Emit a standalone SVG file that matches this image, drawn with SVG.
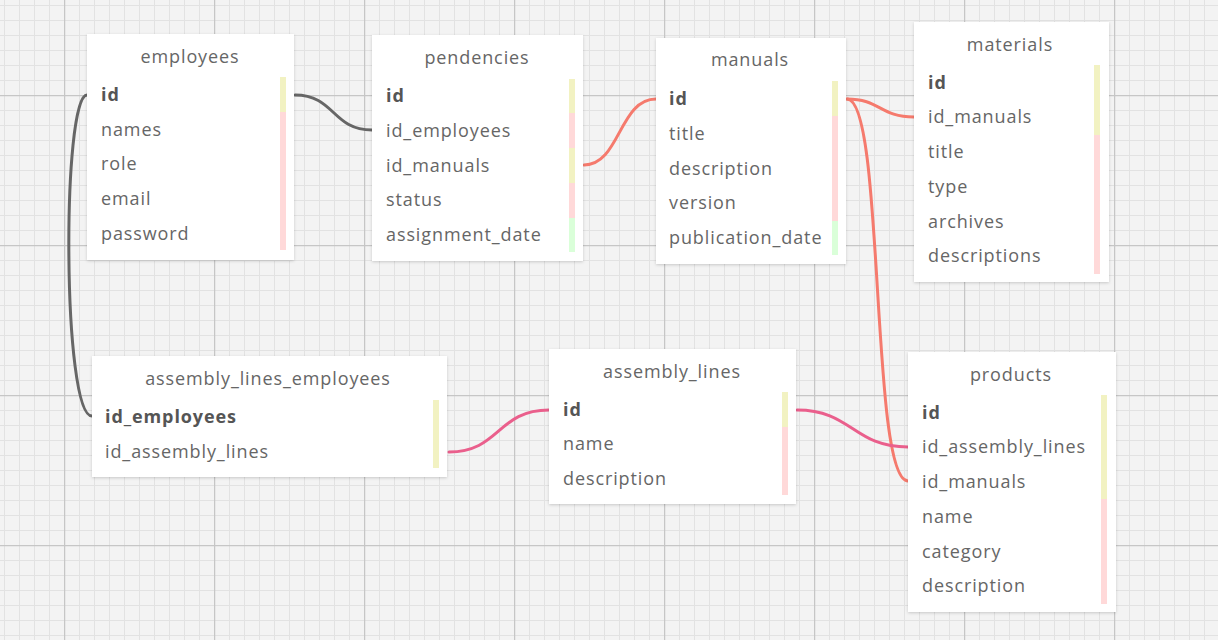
<svg xmlns="http://www.w3.org/2000/svg" width="1218" height="640" viewBox="0 0 1218 640">
<style>
.box{fill:#ffffff;filter:url(#sh)}
.t{font-family:"Open Sans","Noto Sans",sans-serif;font-size:18px;fill:#666666;letter-spacing:0.9px}
.title{text-anchor:middle}
.pk{font-weight:bold;fill:#555555}
.y{fill:#f2f2c2}.p{fill:#ffd9d9}.g{fill:#daffd9}
.c{fill:none;stroke-width:3;stroke-linecap:round}
.gr{stroke:#666666}.co{stroke:#f57a6d}.pi{stroke:#ea5f8c}
</style>
<defs>
<pattern id="minor" width="15" height="15" patternUnits="userSpaceOnUse" x="4" y="5">
<path d="M0.5 0V15M0 0.5H15" stroke="#e2e2e2" stroke-width="1" fill="none"/>
</pattern>
<pattern id="major" width="150" height="150" patternUnits="userSpaceOnUse" x="64" y="95">
<path d="M0.5 0V150M0 0.5H150" stroke="#c6c6c6" stroke-width="1.5" fill="none"/>
</pattern>
<filter id="sh" x="-10%" y="-10%" width="120%" height="120%">
<feDropShadow dx="0" dy="1" stdDeviation="1.5" flood-color="#000" flood-opacity="0.18"/>
</filter>
</defs>
<rect width="1218" height="640" fill="#f3f3f3"/>
<rect width="1218" height="640" fill="url(#minor)"/>
<rect width="1218" height="640" fill="url(#major)"/>

<g id="connectors">
<path class="c gr" d="M295,95 C335,95 332,130 372,130"/>
<path class="c gr" d="M87,95 C62,95 62,416 92,416"/>
<path class="c co" d="M584,165 C620,165 619,99 656,99"/>
<path class="c co" d="M847,99 C880,99 880,117 914,117"/>
<path class="c co" d="M847,99 C885,99 870,481 908,481"/>
<path class="c pi" d="M449,452 C500,452 497,410 549,410"/>
<path class="c pi" d="M797,410 C852,410 853,447 908,447"/>
</g>

<g id="employees">
<rect class="box" x="87" y="34" width="207" height="226"/>
<text class="t title" x="190" y="63">employees</text>
<text class="t pk" x="101" y="101">id</text>
<text class="t" x="101" y="136">names</text>
<text class="t" x="101" y="170">role</text>
<text class="t" x="101" y="205">email</text>
<text class="t" x="101" y="240">password</text>
<rect class="y" x="280" y="77" width="6" height="35"/>
<rect class="p" x="280" y="112" width="6" height="138"/>
</g>

<g id="pendencies">
<rect class="box" x="372" y="35" width="211" height="226"/>
<text class="t title" x="477" y="64">pendencies</text>
<text class="t pk" x="386" y="102">id</text>
<text class="t" x="386" y="137">id_employees</text>
<text class="t" x="386" y="172">id_manuals</text>
<text class="t" x="386" y="206">status</text>
<text class="t" x="386" y="241">assignment_date</text>
<rect class="y" x="569" y="79" width="6" height="34"/>
<rect class="p" x="569" y="113" width="6" height="35"/>
<rect class="y" x="569" y="148" width="6" height="35"/>
<rect class="p" x="569" y="183" width="6" height="35"/>
<rect class="g" x="569" y="218" width="6" height="34"/>
</g>

<g id="manuals">
<rect class="box" x="656" y="38" width="190" height="226"/>
<text class="t title" x="750" y="66">manuals</text>
<text class="t pk" x="669" y="105">id</text>
<text class="t" x="669" y="140">title</text>
<text class="t" x="669" y="175">description</text>
<text class="t" x="669" y="209">version</text>
<text class="t" x="669" y="244">publication_date</text>
<rect class="y" x="832" y="81" width="6" height="35"/>
<rect class="p" x="832" y="116" width="6" height="105"/>
<rect class="g" x="832" y="221" width="6" height="34"/>
</g>

<g id="materials">
<rect class="box" x="914" y="22" width="195" height="260"/>
<text class="t title" x="1010" y="51">materials</text>
<text class="t pk" x="928" y="89">id</text>
<text class="t" x="928" y="123">id_manuals</text>
<text class="t" x="928" y="158">title</text>
<text class="t" x="928" y="193">type</text>
<text class="t" x="928" y="228">archives</text>
<text class="t" x="928" y="262">descriptions</text>
<rect class="y" x="1094" y="65" width="6" height="70"/>
<rect class="p" x="1094" y="135" width="6" height="139"/>
</g>

<g id="assembly_lines_employees">
<rect class="box" x="92" y="356" width="355" height="121"/>
<text class="t title" x="268" y="385">assembly_lines_employees</text>
<text class="t pk" x="105" y="423">id_employees</text>
<text class="t" x="105" y="458">id_assembly_lines</text>
<rect class="y" x="433" y="400" width="6" height="68"/>
</g>

<g id="assembly_lines">
<rect class="box" x="549" y="349" width="247" height="155"/>
<text class="t title" x="672" y="378">assembly_lines</text>
<text class="t pk" x="563" y="416">id</text>
<text class="t" x="563" y="450">name</text>
<text class="t" x="563" y="485">description</text>
<rect class="y" x="782" y="392" width="6" height="35"/>
<rect class="p" x="782" y="427" width="6" height="68"/>
</g>

<g id="products">
<rect class="box" x="908" y="352" width="208" height="260"/>
<text class="t title" x="1011" y="381">products</text>
<text class="t pk" x="922" y="419">id</text>
<text class="t" x="922" y="453">id_assembly_lines</text>
<text class="t" x="922" y="488">id_manuals</text>
<text class="t" x="922" y="523">name</text>
<text class="t" x="922" y="558">category</text>
<text class="t" x="922" y="592">description</text>
<rect class="y" x="1101" y="395" width="6" height="104"/>
<rect class="p" x="1101" y="499" width="6" height="105"/>
</g>
</svg>
